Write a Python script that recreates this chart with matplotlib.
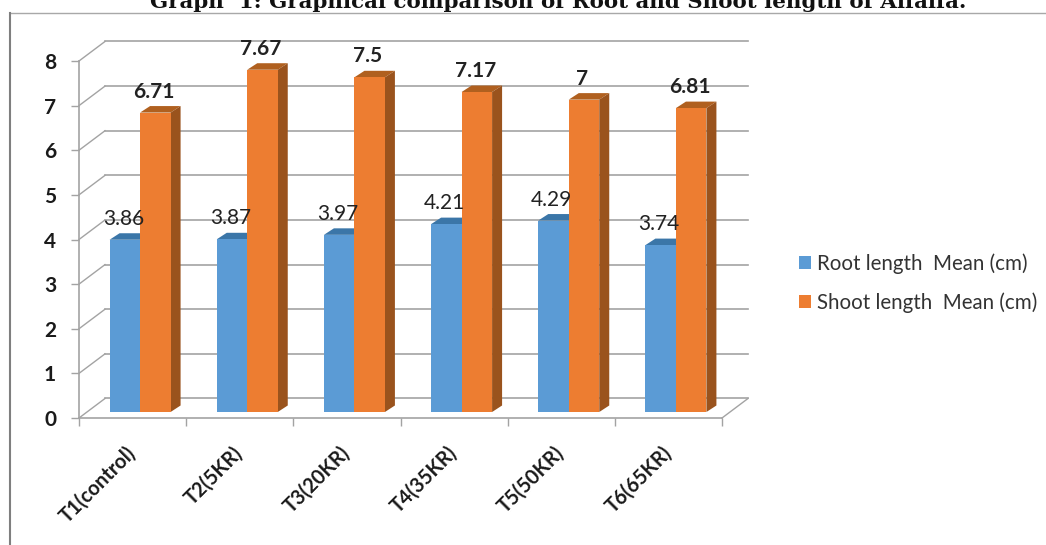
import matplotlib
matplotlib.use("Agg")
import matplotlib.pyplot as plt
from matplotlib.lines import Line2D
from matplotlib.patches import Polygon, Patch

categories = ["T1(control)", "T2(5KR)", "T3(20KR)", "T4(35KR)", "T5(50KR)", "T6(65KR)"]
root_mean = [3.86, 3.87, 3.97, 4.21, 4.29, 3.74]
shoot_mean = [6.71, 7.67, 7.5, 7.17, 7, 6.81]
root_labels = ["3.86", "3.87", "3.97", "4.21", "4.29", "3.74"]
shoot_labels = ["6.71", "7.67", "7.5", "7.17", "7", "6.81"]
yticks = [0, 1, 2, 3, 4, 5, 6, 7, 8]
title = "Graph  1: Graphical comparison of Root and Shoot length of Alfalfa."

W, H = 1046, 545
FONT = "Lato"
GRID = "#a3a3a3"
BLUE, BLUE_D = "#5b9bd5", "#3b76a8"
ORANGE, ORANGE_D, ORANGE_S = "#ed7d31", "#b0601f", "#9a531d"

fig = plt.figure(figsize=(W / 100, H / 100), dpi=100, facecolor="white")
ax = fig.add_axes([79 / W, (H - 418) / H, (722 - 79) / W, (418 - 61) / H])
ax.set_xlim(0, 6)
ax.set_ylim(0, 8)
ax.patch.set_alpha(0)

# pseudo-3D depth, in data units
wall_dx, wall_dy = 26 / 107.17, 19.5 / 44.6
bar_dx, bar_dy = 7.5 / 107.17, 6 / 44.6
side_dx, side_dy = 10 / 107.17, 6.5 / 44.6
bar_w = 30.5 / 107.17

for s in ["top", "right"]:
    ax.spines[s].set_visible(False)
for s in ["left", "bottom"]:
    ax.spines[s].set_color(GRID)
    ax.spines[s].set_linewidth(1.2)

for v in yticks:
    ax.plot([wall_dx, 6 + wall_dx], [v + wall_dy] * 2, color=GRID, lw=1.2, clip_on=False, zorder=1)
    ax.plot([0, wall_dx], [v, v + wall_dy], color=GRID, lw=1.0, clip_on=False, zorder=1)
ax.plot([6, 6 + wall_dx], [0, wall_dy], color=GRID, lw=1.0, clip_on=False, zorder=1)

ax.set_yticks(yticks)
ax.set_xticks(range(7))
ax.set_xticklabels([])
ax.set_xticks([i + 0.5 for i in range(6)], minor=True)
ax.set_xticklabels(categories, minor=True, rotation=45, ha="right", va="center",
                   rotation_mode="anchor", fontfamily=FONT, fontweight="bold",
                   fontsize=14.4, color="#1a1a1a")
ax.tick_params(axis="x", which="major", length=6, width=1, color=GRID)
ax.tick_params(axis="x", which="minor", length=0, pad=23)
ax.tick_params(axis="y", length=5.5, width=1, color=GRID, pad=11)
for t in ax.get_yticklabels():
    t.set_fontfamily(FONT)
    t.set_fontweight("bold")
    t.set_fontsize(15)
    t.set_color("#1a1a1a")


def draw_series(centers, values, labels, face, top, side, weight):
    ax.bar(centers, values, width=bar_w, bottom=bar_dy, color=face, zorder=3, clip_on=False)
    for c, v, lab in zip(centers, values, labels):
        l, r = c - bar_w / 2, c + bar_w / 2
        y0, y1 = bar_dy, v + bar_dy
        ax.add_patch(Polygon([(l, y1), (r, y1), (r + side_dx, y1 + side_dy), (l + side_dx, y1 + side_dy)],
                             closed=True, fc=top, ec="none", zorder=2.8, clip_on=False))
        ax.add_patch(Polygon([(r, y0), (r, y1), (r + side_dx, y1 + side_dy), (r + side_dx, y0 + side_dy)],
                             closed=True, fc=side, ec="none", zorder=2.8, clip_on=False))
        ax.text(c - 0.015, y1 + 21 / 44.6, lab, ha="center", va="center", fontfamily=FONT,
                fontweight=weight, fontsize=15, color="#222222", zorder=5, clip_on=False)


xs = [i + 0.5 + bar_dx for i in range(6)]
draw_series([x - bar_w / 2 for x in xs], root_mean, root_labels, BLUE, BLUE_D, BLUE_D, "normal")
draw_series([x + bar_w / 2 for x in xs], shoot_mean, shoot_labels, ORANGE, ORANGE_D, ORANGE_S, "bold")

handles = [Patch(fc=BLUE, ec="none"), Patch(fc=ORANGE, ec="none")]
fig.legend(handles, ["Root length  Mean (cm)", "Shoot length  Mean (cm)"],
           loc="center left", bbox_to_anchor=(793 / W, (H - 283) / H), frameon=False,
           prop={"family": FONT, "size": 14.8}, labelcolor="#333333",
           handlelength=0.58, handleheight=0.58, handletextpad=0.3,
           labelspacing=0.9, borderpad=0.3, borderaxespad=0)

# outer frame
fig.add_artist(Line2D([10 / W, 1], [(H - 12.5) / H] * 2, color="#a8a8a8", lw=1.0, transform=fig.transFigure))
fig.add_artist(Line2D([10 / W, 10 / W], [0, (H - 12.5) / H], color="#7f7f7f", lw=1.5, transform=fig.transFigure))

fig.text(558 / W, (H - 7.5) / H, title, ha="center", va="baseline", fontfamily="DejaVu Serif",
         fontweight="bold", fontsize=15.4, color="#111111")

fig.savefig("out.png", dpi=100, facecolor="white")
